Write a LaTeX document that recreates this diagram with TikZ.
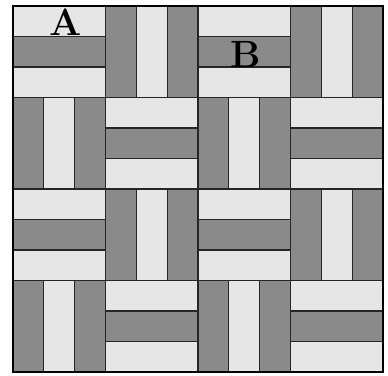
\documentclass[tikz,border=0pt]{standalone}
\usetikzlibrary{positioning}
\definecolor{darkstrip}{HTML}{8A8A8A}
\definecolor{lightstrip}{HTML}{E6E6E6}
\tikzset{
    dark/.style={draw=black!85, line width=1.3pt, fill=darkstrip},
    light/.style={draw=black!85, line width=1.3pt, fill=lightstrip},
    letter/.style={font=\fontsize{38}{38}\selectfont\bfseries, inner sep=0pt, anchor=base}
}

\begin{document}
\begin{tikzpicture}[x=1pt,y=-1pt]
        \useasboundingbox (0,0) rectangle (388,375);
        % 4x4 blocks, each cut in three strips
        \foreach \r in {0,...,3}{
            \foreach \c in {0,...,3}{
                \pgfmathsetmacro{\xa}{13+92.5*\c}
                \pgfmathsetmacro{\ya}{6+91.5*\r}
                \pgfmathtruncatemacro{\kind}{mod(\r+\c,2)}
                \ifnum\kind=0
                    % horizontal strips: light, dark, light
                    \draw[light] (\xa,\ya) rectangle ++(92.5,30.5);
                    \draw[dark] (\xa,\ya+30.5) rectangle ++(92.5,30.5);
                    \draw[light] (\xa,\ya+61) rectangle ++(92.5,30.5);
                \else
                    % vertical strips: dark, light, dark
                    \draw[dark] (\xa,\ya) rectangle ++(30.83,91.5);
                    \draw[light] (\xa+30.83,\ya) rectangle ++(30.83,91.5);
                    \draw[dark] (\xa+61.67,\ya) rectangle ++(30.83,91.5);
                \fi
            }
        }
        \draw[line width=1.5pt] (13,6) rectangle (383,372);
        \node[letter] (labelA) at (66,35) {A};
        \node[letter] (labelB) at (246,67) {B};
    \end{tikzpicture}
\end{document}
